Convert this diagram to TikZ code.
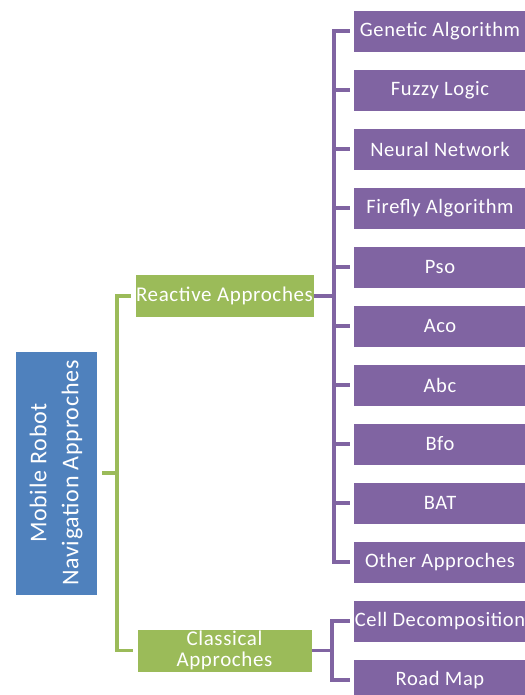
\documentclass[tikz,border=0pt]{standalone}
\usepackage{fontspec}
\setmainfont[LetterSpace=3]{Carlito}
\usepackage{tikz}
\definecolor{rootblue}{HTML}{4F81BD}
\definecolor{branchgreen}{HTML}{9BBB59}
\definecolor{leafpurple}{HTML}{8064A2}

\begin{document}
\begin{tikzpicture}[x=1pt, y=-1pt,
    rootbox/.style={fill=rootblue, draw=white, thin, text=white, rotate=90,
      minimum width=244pt, minimum height=82pt, align=center,
      font=\fontsize{24}{32}\selectfont},
    branch/.style={fill=branchgreen, draw=white, thin, text=white,
      minimum width=175pt, minimum height=43pt, align=center, inner sep=1pt,
      font=\fontsize{21}{21}\selectfont},
    method/.style={fill=leafpurple, draw=white, thin, text=white,
      minimum width=174pt, minimum height=42pt, inner sep=1pt,
      font=\fontsize{20.5}{21}\selectfont},
    greenline/.style={draw=branchgreen, line width=3.5pt},
    purpleline/.style={draw=leafpurple, line width=3.5pt}]
	\useasboundingbox (0,0) rectangle (524,695);

	\node [rootbox] (root) at (56,473) {Mobile Robot\\Navigation Approches};
	\node [branch] (reactive) at (224.5,296) {Reactive Approches};
	\node [branch] (classical) at (224.5,650.5) {Classical\\Approches};

	\foreach \lbl [count=\i] in {Genetic Algorithm, Fuzzy Logic, Neural Network,
	    Firefly Algorithm, Pso, Aco, Abc, Bfo, BAT, Other Approches}
	  \node [method] (r\i) at (440,{31+59*(\i-1)}) {\lbl};
	\node [method] (c1) at (440,621) {Cell Decomposition};
	\node [method] (c2) at (440,680) {Road Map};

	% root to branches
	\draw [greenline] ([xshift=5]root.south) -- ++(15,0) |- ([xshift=-4]reactive.west);
	\draw [greenline] ([xshift=5]root.south) -- ++(15,0) |- ([xshift=-4]classical.west);

	% branches to methods
	\foreach \i in {1,...,10}
	  \draw [purpleline] (reactive.east) -- ++(20,0) |- ([xshift=-3]r\i.west);
	\foreach \i in {1,2}
	  \draw [purpleline] (classical.east) -- ++(20,0) |- ([xshift=-3]c\i.west);
\end{tikzpicture}
\end{document}
